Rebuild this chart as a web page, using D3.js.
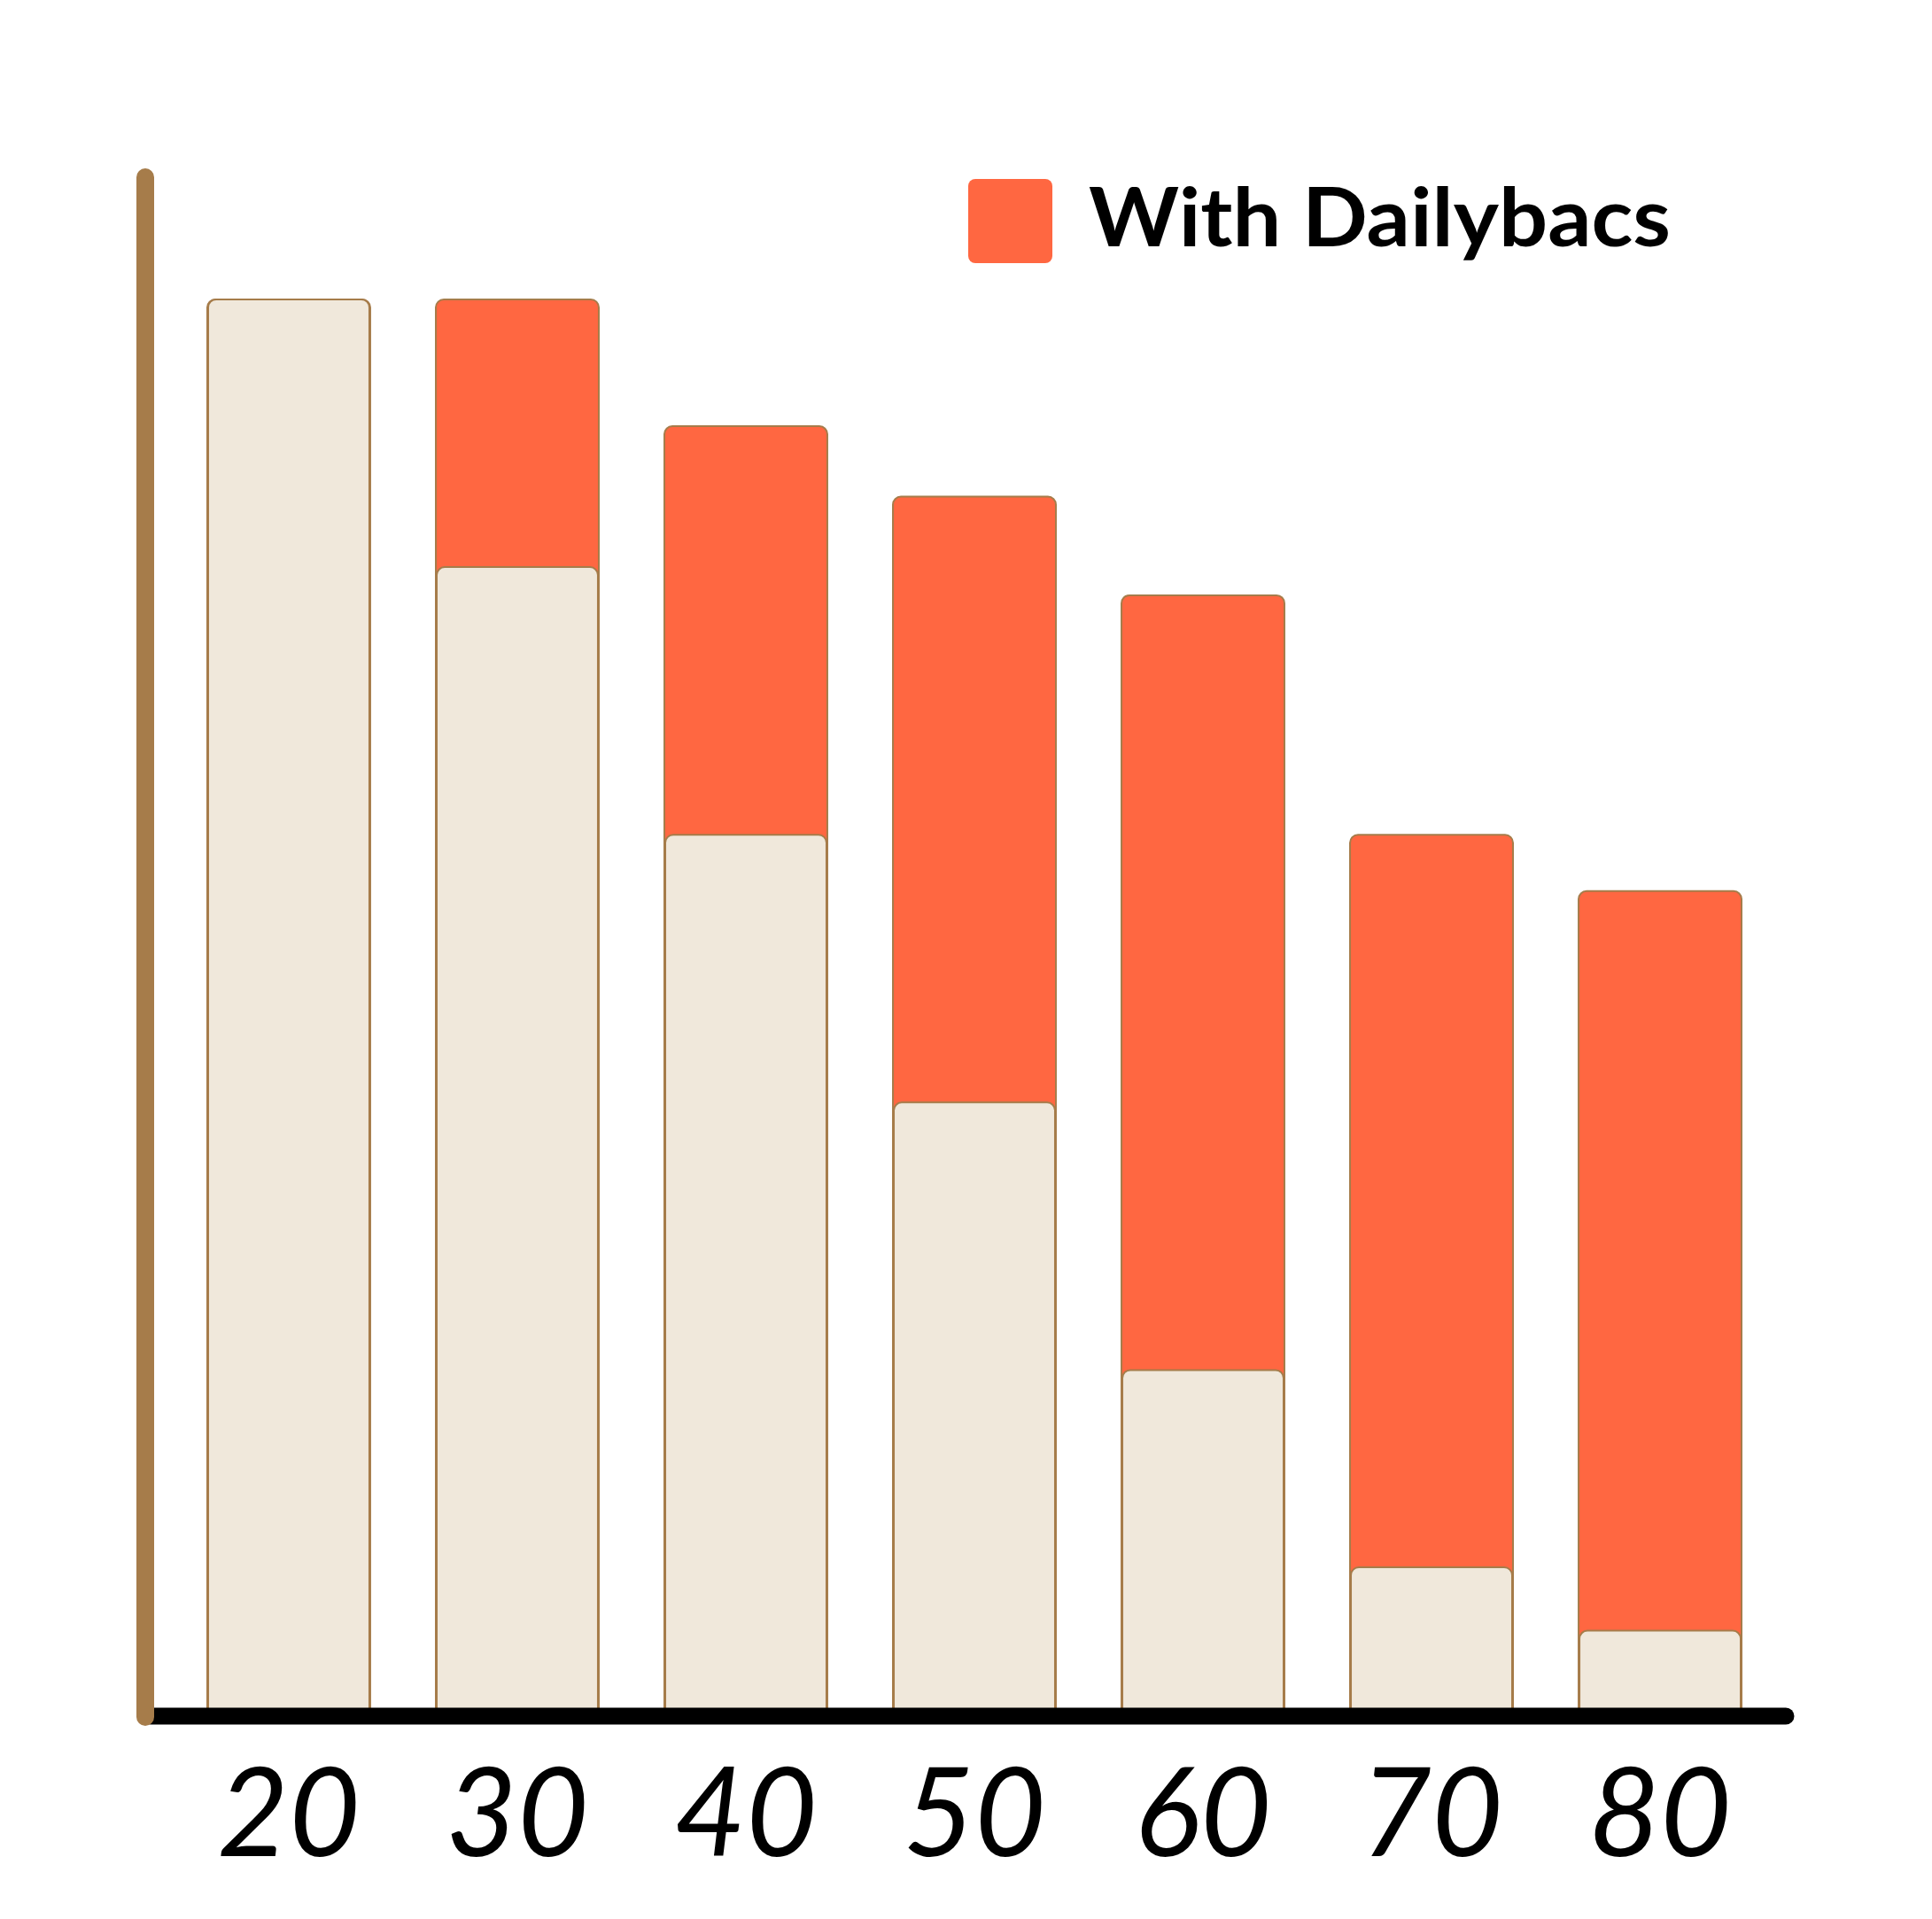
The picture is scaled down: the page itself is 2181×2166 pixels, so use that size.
<!DOCTYPE html>
<html>
<head>
<meta charset="utf-8">
<script src="https://cdn.jsdelivr.net/npm/d3@7/dist/d3.min.js"></script>
<style>
  html, body { margin: 0; padding: 0; background: #ffffff; }
  svg { display: block; }
</style>
</head>
<body>
<div id="chart"></div>
<script>
// ---- data ----
const categories = ["20", "30", "40", "50", "60", "70", "80"];
const withDailybacs = [100, 100, 91, 86, 79, 62, 58];   // orange (total height)
const withoutDailybacs = [100, 81, 62, 43, 24, 10, 5.5]; // beige
const legendLabel = "With Dailybacs";

const W = 2181, H = 2166;
const orange = "#FF6741", beige = "#F0E8DB", brown = "#A67C4A";

const svg = d3.select("#chart").append("svg")
  .attr("width", W).attr("height", H)
  .attr("viewBox", `0 0 ${W} ${H}`);

const x = d3.scaleBand().domain(categories).range([234, 1966]).paddingInner(0.287).paddingOuter(0);
const y = d3.scaleLinear().domain([0, 100]).range([1928, 338]);

const data = categories.map((c, i) => ({ c, total: withDailybacs[i], base: withoutDailybacs[i] }));

// orange bars (total)
svg.append("g").selectAll("rect").data(data).join("rect")
  .attr("x", d => x(d.c))
  .attr("width", x.bandwidth())
  .attr("y", d => y(d.total))
  .attr("height", d => y(0) - y(d.total) + 10)
  .attr("rx", 9)
  .attr("fill", orange)
  .attr("stroke", brown)
  .attr("stroke-width", 2);

// beige bars (base)
svg.append("g").selectAll("rect").data(data).join("rect")
  .attr("x", d => x(d.c) + 1)
  .attr("width", x.bandwidth() - 2)
  .attr("y", d => y(d.base))
  .attr("height", d => y(0) - y(d.base) + 10)
  .attr("rx", 9)
  .attr("fill", beige)
  .attr("stroke", brown)
  .attr("stroke-width", 2);

// x axis line
svg.append("line")
  .attr("x1", 170).attr("x2", 2016)
  .attr("y1", 1937).attr("y2", 1937)
  .attr("stroke", "#000").attr("stroke-width", 19)
  .attr("stroke-linecap", "round");

// y axis line
svg.append("line")
  .attr("x1", 164).attr("x2", 164)
  .attr("y1", 1938).attr("y2", 200)
  .attr("stroke", brown).attr("stroke-width", 20)
  .attr("stroke-linecap", "round");

// x tick labels
const xAxis = d3.axisBottom(x).tickSize(0).tickPadding(0);
const gx = svg.append("g").attr("transform", "translate(0,1937)").call(xAxis);
gx.select(".domain").remove();
gx.selectAll("text")
  .attr("y", 158).attr("dy", 0)
  .attr("fill", "#000")
  .style("font-family", "Lato, 'Open Sans', sans-serif")
  .style("font-style", "italic")
  .style("font-weight", 400)
  .style("font-size", "139px");

// legend
const lg = svg.append("g");
lg.append("rect")
  .attr("x", 1093).attr("y", 202)
  .attr("width", 95).attr("height", 95)
  .attr("rx", 8)
  .attr("fill", orange);
lg.append("text")
  .attr("x", 1229).attr("y", 278)
  .attr("textLength", 657)
  .attr("lengthAdjust", "spacingAndGlyphs")
  .style("font-family", "Lato, 'Open Sans', sans-serif")
  .style("font-weight", 700)
  .style("font-size", "92px")
  .attr("fill", "#000")
  .text(legendLabel);
</script>
</body>
</html>
